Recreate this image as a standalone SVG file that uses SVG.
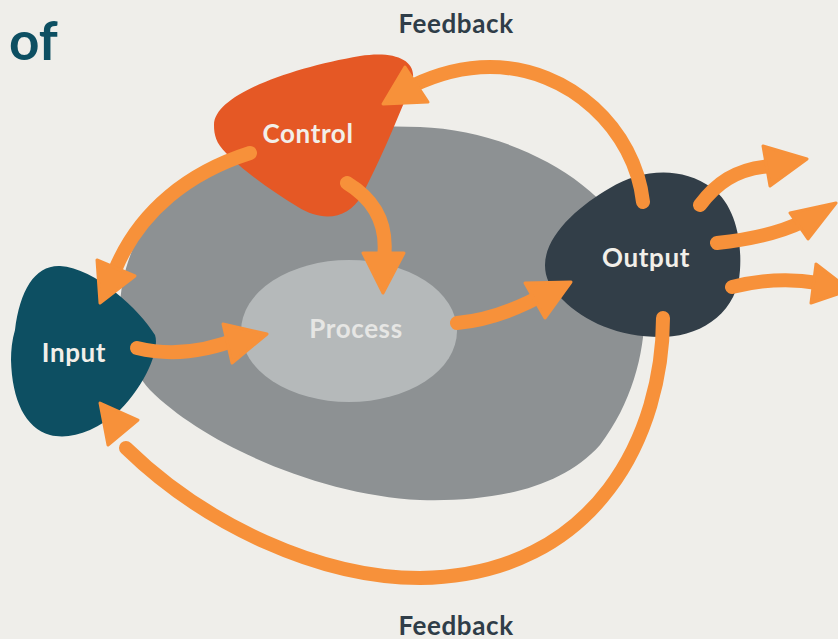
<svg xmlns="http://www.w3.org/2000/svg" width="838" height="639" viewBox="0 0 838 639">
  <style>
    .shaft { fill: none; stroke: #f7913a; stroke-width: 14; stroke-linecap: round; }
    .head { fill: #f7913a; stroke: #f7913a; stroke-width: 3; stroke-linejoin: round; }
    .label { font-family: Lato, "Open Sans", sans-serif; font-weight: 700; font-size: 26px; text-anchor: middle; letter-spacing: 0.6px; }
    .light { fill: #f2efe9; }
    .dark { fill: #2f3d48; }
  </style>
  <rect width="838" height="639" fill="#efeeea"/>

  <!-- title fragment -->
  <text x="9" y="60" font-family="Lato, sans-serif" font-weight="700" font-size="53" fill="#0d4f62">of</text>

  <!-- system boundary -->
  <path id="system" d="M420,127 C510,130 600,180 630,240 C655,290 650,380 600,445 C560,490 490,502 420,500 C320,495 205,445 150,390 C110,345 110,280 150,215 C195,150 310,122 420,127 Z" fill="#8d9193"/>

  <g id="process">
    <ellipse cx="349" cy="331" rx="108" ry="71" fill="#b5b9ba"/>
    <text class="label" x="356" y="338" fill="#e6e6e4">Process</text>
  </g>

  <g id="control">
    <path d="M214,125 C214,95 290,68 360,56 C398,50 422,62 410,88 C395,125 378,165 362,195 C348,220 322,222 298,207 C270,190 240,168 226,153 C216,143 214,135 214,125 Z" fill="#e55825"/>
    <text class="label light" x="308" y="143">Control</text>
  </g>

  <g id="input">
    <path d="M15,330 C20,290 35,265 60,266 C95,268 140,310 155,335 C160,350 145,385 120,410 C95,432 70,440 50,435 C25,428 12,400 11,360 C11,350 12,340 15,330 Z" fill="#0d4f62"/>
    <text class="label light" x="74" y="362">Input</text>
  </g>

  <g id="output">
    <path d="M545,265 C545,235 580,205 610,188 C640,170 680,165 712,188 C735,205 742,240 740,270 C738,310 705,335 665,337 C620,338 585,322 563,300 C550,288 545,278 545,265 Z" fill="#323e48"/>
    <text class="label light" x="646" y="267">Output</text>
  </g>

  <g id="connectors">
    <!-- control to input -->
    <path class="shaft" d="M250,153 C190,172 140,210 115,270"/>
    <polygon class="head" points="100,303 97,260 135,276"/>
    <!-- control to process -->
    <path class="shaft" d="M347,183 C375,200 388,225 384,258"/>
    <polygon class="head" points="383,293 363,253 404,253"/>
    <!-- input to process -->
    <path class="shaft" d="M137,348 C170,356 205,352 240,338"/>
    <polygon class="head" points="267,334 223,324 232,363"/>
    <!-- process to output -->
    <path class="shaft" d="M457,323 C490,320 520,308 548,292"/>
    <polygon class="head" points="571,282 525,283 545,318"/>
    <!-- feedback: output to control -->
    <path class="shaft" d="M643,202 C635,130 570,67 490,67 C460,67 435,75 412,86"/>
    <polygon class="head" points="383,104 405,67 428,102"/>
    <!-- outgoing results -->
    <path class="shaft" d="M700,205 C715,185 735,168 772,166"/>
    <polygon class="head" points="807,159 763,146 770,186"/>
    <path class="shaft" d="M717,243 C745,240 775,235 802,222"/>
    <polygon class="head" points="836,203 790,213 808,239"/>
    <path class="shaft" d="M732,287 C760,280 790,278 818,283"/>
    <polygon class="head" points="850,290 816,264 811,303"/>
    <!-- feedback: output to input -->
    <path class="shaft" d="M663,318 C663,430 600,575 420,578 C320,578 205,525 126,448"/>
    <polygon class="head" points="100,403 108,445 138,420"/>
  </g>

  <text class="label dark" x="456" y="33">Feedback</text>
  <text class="label dark" x="456" y="635">Feedback</text>
</svg>
